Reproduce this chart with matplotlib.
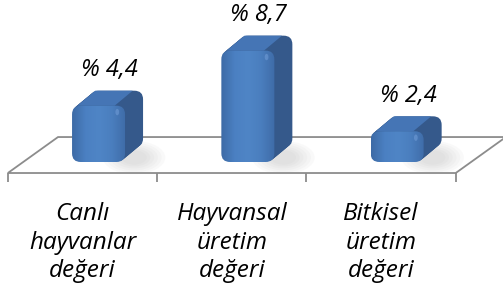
import numpy as np
import matplotlib
matplotlib.use("Agg")
import matplotlib.pyplot as plt
from matplotlib.patches import FancyBboxPatch, Polygon, Ellipse
from matplotlib.colors import LinearSegmentedColormap

categories = ["Canlı\nhayvanlar\ndeğeri", "Hayvansal\nüretim\ndeğeri", "Bitkisel\nüretim\ndeğeri"]
values = [4.4, 8.7, 2.4]
labels = ["% 4,4", "% 8,7", "% 2,4"]

plt.rcParams['font.family'] = ['Open Sans', 'DejaVu Sans']

fig = plt.figure(figsize=(5.03, 2.9), dpi=100)
ax = fig.add_axes([0, 0, 1, 1])
ax.set_xlim(-0.5526, 2.8165)
ax.set_ylim(-10, 12.656)
ax.axis('off')

# bar geometry (category units / value units)
off = -0.070      # front face left edge relative to category centre
w = 0.355         # front face width
dx, dy = 0.1206, 1.17   # depth of the pseudo 3d extrusion
r = 0.058         # corner rounding in x units
asp = 11.6        # px per x unit / px per y unit

# floor
floor = Polygon([(-0.5, -0.86), (2.5, -0.86), (2.836, 1.95), (-0.164, 1.95)],
                closed=True, facecolor='white', edgecolor='#8c8c8c', lw=1.3, zorder=1)
ax.add_patch(floor)
for t in [-0.5, 0.5, 1.5, 2.5]:
    ax.plot([t, t], [-0.86, -1.56], color='#8c8c8c', lw=1.3, zorder=1, solid_capstyle='butt')

front_cmap = LinearSegmentedColormap.from_list(
    'front', ['#3d6ba6', '#4b80c2', '#4f85c6', '#4a7ebe', '#3f6ca8'])

for i, v in enumerate(values):
    x0 = i + off
    x1 = x0 + w
    # soft shadow on the floor
    for k in range(6):
        ax.add_patch(Ellipse((x1 + 0.06, 0.35), 0.42 - k * 0.05, 2.6 - k * 0.3,
                             facecolor='#9a9a9a', edgecolor='none', alpha=0.05, zorder=2))
    # extruded back / side
    n = 14
    for k in range(n, 0, -1):
        t = k / n
        b = FancyBboxPatch((x0 + dx * t, dy * t), w, v,
                           boxstyle=f"round,pad=0,rounding_size={r}",
                           mutation_aspect=asp, facecolor='#35598b', edgecolor='none', zorder=3)
        ax.add_patch(b)
    # top face
    top = Polygon([(x0 + r * 0.6, v), (x0 + r * 0.6 + dx, v + dy),
                   (x1 - r * 1.2 + dx, v + dy), (x1 - r * 1.2, v)],
                  closed=True, facecolor='#4575b5', edgecolor='none', zorder=4)
    ax.add_patch(top)
    # front face with gradient
    fr = FancyBboxPatch((x0, 0), w, v, boxstyle=f"round,pad=0,rounding_size={r}",
                        mutation_aspect=asp, facecolor='none', edgecolor='none', zorder=5)
    ax.add_patch(fr)
    grad = np.linspace(0, 1, 64).reshape(1, -1)
    im = ax.imshow(grad, cmap=front_cmap, aspect='auto', extent=(x0, x1, 0, v),
                   zorder=5, interpolation='bilinear')
    im.set_clip_path(fr)
    # soft highlight near top right
    ax.add_patch(Ellipse((x1 - r * 0.9, v - 0.5), 0.025, 0.5, facecolor='#6f9bd6',
                         edgecolor='none', alpha=0.6, zorder=6))
    ax.text(i + 0.18, v + dy + 1.6, labels[i], ha='center', va='center',
            fontsize=17, style='italic', color='black', zorder=7)

for i, c in enumerate(categories):
    ax.text(i, -6.3, c, ha='center', va='center', fontsize=17.5, style='italic',
            linespacing=1.27, color='black')

fig.savefig('out.png', dpi=100)
